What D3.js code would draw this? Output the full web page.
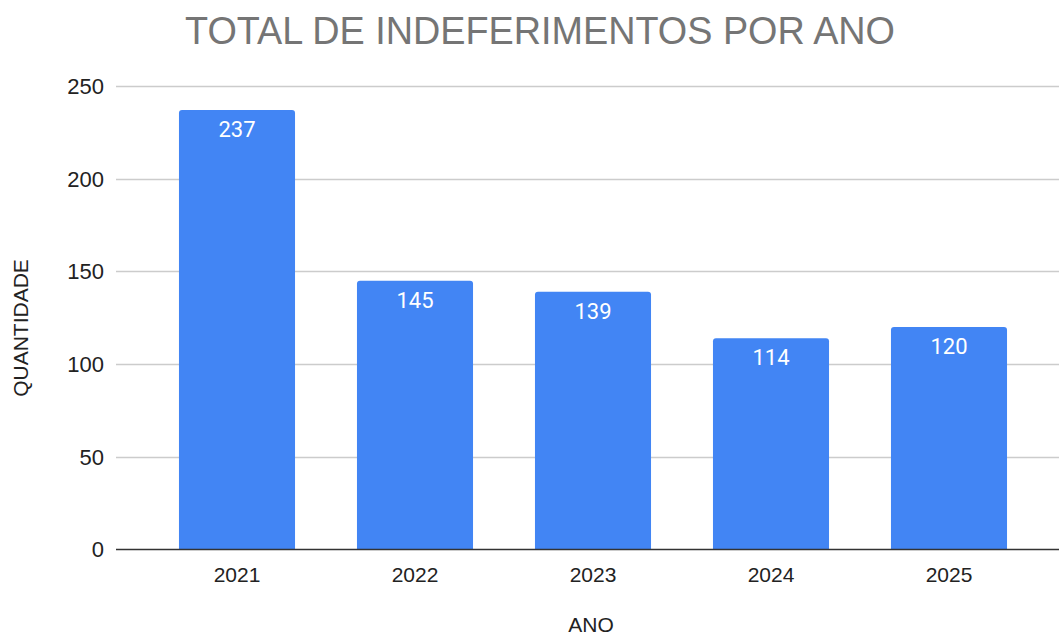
<!DOCTYPE html>
<html><head><meta charset="utf-8">
<script src="https://cdn.jsdelivr.net/npm/d3@7"></script>
<style>body{margin:0;background:#fff}svg{display:block}</style>
</head><body>
<script>
const categories = ["2021","2022","2023","2024","2025"];
const values = [237,145,139,114,120];
const yTicks = [0,50,100,150,200,250];
const title = "TOTAL DE INDEFERIMENTOS POR ANO";
const xTitle = "ANO";
const yTitle = "QUANTIDADE";

const W = 1059, H = 637;
const svg = d3.select("body").append("svg").attr("width",W).attr("height",H);

const x = d3.scaleBand().domain(categories).range([148,1038]).paddingInner(0.348).paddingOuter(0.174);
const y = d3.scaleLinear().domain([0,250]).range([549.5,86]);

// gridlines
svg.append("g").selectAll("line").data(yTicks.filter(d=>d>0)).join("line")
  .attr("x1",116).attr("x2",W).attr("y1",d=>Math.round(y(d))+0.5).attr("y2",d=>Math.round(y(d))+0.5)
  .attr("stroke","#cccccc").attr("stroke-width",1.3);

// y tick labels
svg.append("g").selectAll("text").data(yTicks).join("text")
  .attr("x",104).attr("y",d=>y(d)).attr("dy","0.36em").attr("text-anchor","end")
  .attr("font-family","Liberation Sans, Arial, sans-serif").attr("font-size",22).attr("fill","#222")
  .text(d=>d);

// bars with rounded top corners
const r = 3;
svg.append("g").selectAll("path").data(values).join("path")
  .attr("d",(d,i)=>{
    const x0 = x(categories[i]), x1 = x0 + x.bandwidth(), y0 = y(0), y1 = y(d);
    return `M${x0},${y0}V${y1+r}Q${x0},${y1} ${x0+r},${y1}H${x1-r}Q${x1},${y1} ${x1},${y1+r}V${y0}Z`;
  })
  .attr("fill","#4285f4");

// bar labels
svg.append("g").selectAll("text").data(values).join("text")
  .attr("x",(d,i)=>x(categories[i])+x.bandwidth()/2).attr("y",d=>y(d)+27)
  .attr("text-anchor","middle").attr("font-family","Roboto, sans-serif").attr("font-size",22)
  .attr("fill","#fff").text(d=>d);

// zero axis line
svg.append("line").attr("x1",116).attr("x2",W).attr("y1",y(0)).attr("y2",y(0))
  .attr("stroke","#333").attr("stroke-width",1.5);

// x labels
svg.append("g").selectAll("text").data(categories).join("text")
  .attr("x",d=>x(d)+x.bandwidth()/2).attr("y",582).attr("text-anchor","middle")
  .attr("font-family","Liberation Sans, Arial, sans-serif").attr("font-size",21).attr("fill","#222")
  .text(d=>d);

// title
svg.append("text").attr("x",540).attr("y",44).attr("text-anchor","middle")
  .attr("font-family","Liberation Sans, Arial, sans-serif").attr("font-size",39).attr("fill","#757575")
  .attr("textLength",710).attr("lengthAdjust","spacingAndGlyphs")
  .text(title);

// axis titles
svg.append("text").attr("x",591).attr("y",632).attr("text-anchor","middle")
  .attr("font-family","Liberation Sans, Arial, sans-serif").attr("font-size",21).attr("fill","#222")
  .text(xTitle);
svg.append("text").attr("transform","translate(27.5,328) rotate(-90)").attr("text-anchor","middle")
  .attr("font-family","Liberation Sans, Arial, sans-serif").attr("font-size",21).attr("fill","#222")
  .text(yTitle);
</script>
</body></html>
